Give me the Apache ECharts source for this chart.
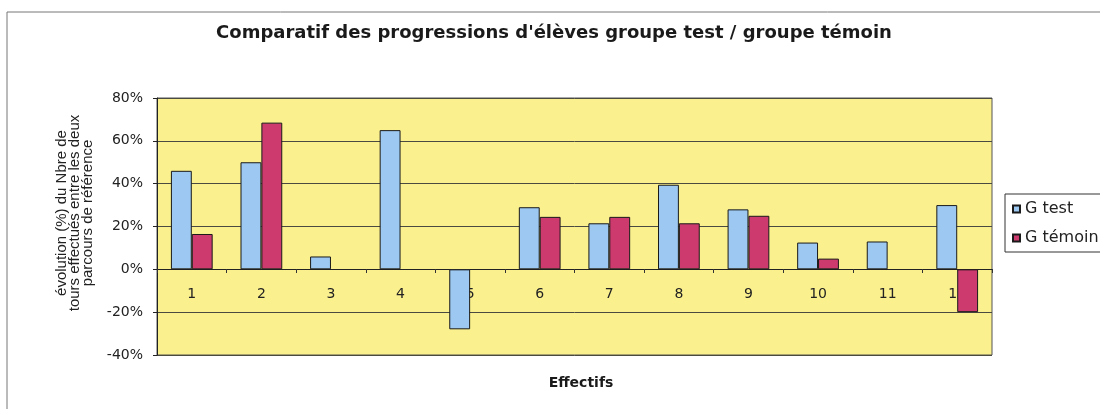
<!DOCTYPE html>
<html>
<head>
<meta charset="utf-8">
<script src="https://cdn.jsdelivr.net/npm/echarts@6/dist/echarts.min.js"></script>
<style>
  html, body { margin: 0; padding: 0; background: #fff; }
  #chart { width: 1100px; height: 409px; }
</style>
</head>
<body>
<div id="chart"></div>
<script>
// values (% progression)
const categories = ["1", "2", "3", "4", "5", "6", "7", "8", "9", "10", "11", "12"];
const gTest   = [46, 50, 6, 65, -28, 29, 21.5, 39.5, 28, 12.5, 13, 30];
const gTemoin = [16.5, 68.5, null, null, null, 24.5, 24.5, 21.5, 25, 5, null, -20];
const seriesNames = ["G test", "G témoin"];

const FONT = "DejaVu Sans";
const C = { test: "#9cc8f2", temoin: "#cc3a6e", plot: "#fbf08e", grid: "#4a4a40", text: "#222" };

const chart = echarts.init(document.getElementById("chart"));

// plot box: y from 98 (80%) to 355 (-40%), so 0% sits 86px above the bottom
const zeroOffset = -86;

chart.setOption({
  backgroundColor: "#fff",
  animation: false,
  textStyle: { fontFamily: FONT, color: C.text },
  title: [
    { text: "Comparatif des progressions d'élèves groupe test / groupe témoin",
      left: 549, top: 19, textAlign: "center",
      textStyle: { fontFamily: FONT, fontSize: 18, fontWeight: "bold", color: "#1a1a1a" } },
    { text: "Effectifs", left: 576, top: 371, textAlign: "center",
      textStyle: { fontFamily: FONT, fontSize: 14, fontWeight: "bold", color: "#1a1a1a" } },
  ],
  graphic: [
    // chart frame, as in the scan (left & top edges visible)
    { type: "rect", shape: { x: 7, y: 12, width: 1200, height: 500 },
      style: { fill: "none", stroke: "#777", lineWidth: 1 }, silent: true },
    // y axis title, 3 lines rotated
    { type: "text", x: 75, y: 213, rotation: Math.PI / 2, silent: true,
      style: { text: "évolution (%) du Nbre de\ntours effectués entre les deux\nparcours de référence",
        font: "15px 'Liberation Sans'", lineHeight: 13, fill: C.text,
        textAlign: "center", textVerticalAlign: "middle" } },
  ],
  legend: {
    data: seriesNames, orient: "vertical", left: 1005, top: 194,
    padding: [7, 30, 6, 7], itemGap: 13, itemWidth: 7, itemHeight: 7,
    borderColor: "#333", borderWidth: 1, icon: "rect",
    textStyle: { fontFamily: FONT, fontSize: 16, color: C.text },
  },
  grid: { left: 157, right: 108, top: 98, bottom: 54, show: true,
    backgroundColor: C.plot, borderColor: "#555", borderWidth: 1 },
  xAxis: {
    type: "category", data: categories, position: "bottom", offset: zeroOffset,
    axisLine: { onZero: false, lineStyle: { color: "#222" } },
    axisTick: { show: true, inside: false, length: 4, lineStyle: { color: "#333" } },
    axisLabel: { margin: 18, fontSize: 14, color: C.text },
  },
  yAxis: {
    type: "value", min: -40, max: 80, interval: 20,
    axisLine: { show: true, lineStyle: { color: "#222" } },
    axisTick: { show: true, length: 4, lineStyle: { color: "#222" } },
    axisLabel: { formatter: "{value}%", fontSize: 14, margin: 14, color: C.text },
    splitLine: { lineStyle: { color: C.grid, width: 1 } },
  },
  series: [
    { name: seriesNames[0], type: "bar", data: gTest, barGap: "0%", barCategoryGap: "40%",
      itemStyle: { color: C.test, borderColor: "#1a1a1a", borderWidth: 1 } },
    { name: seriesNames[1], type: "bar", data: gTemoin,
      itemStyle: { color: C.temoin, borderColor: "#1a1a1a", borderWidth: 1 } },
  ],
});
</script>
</body>
</html>
